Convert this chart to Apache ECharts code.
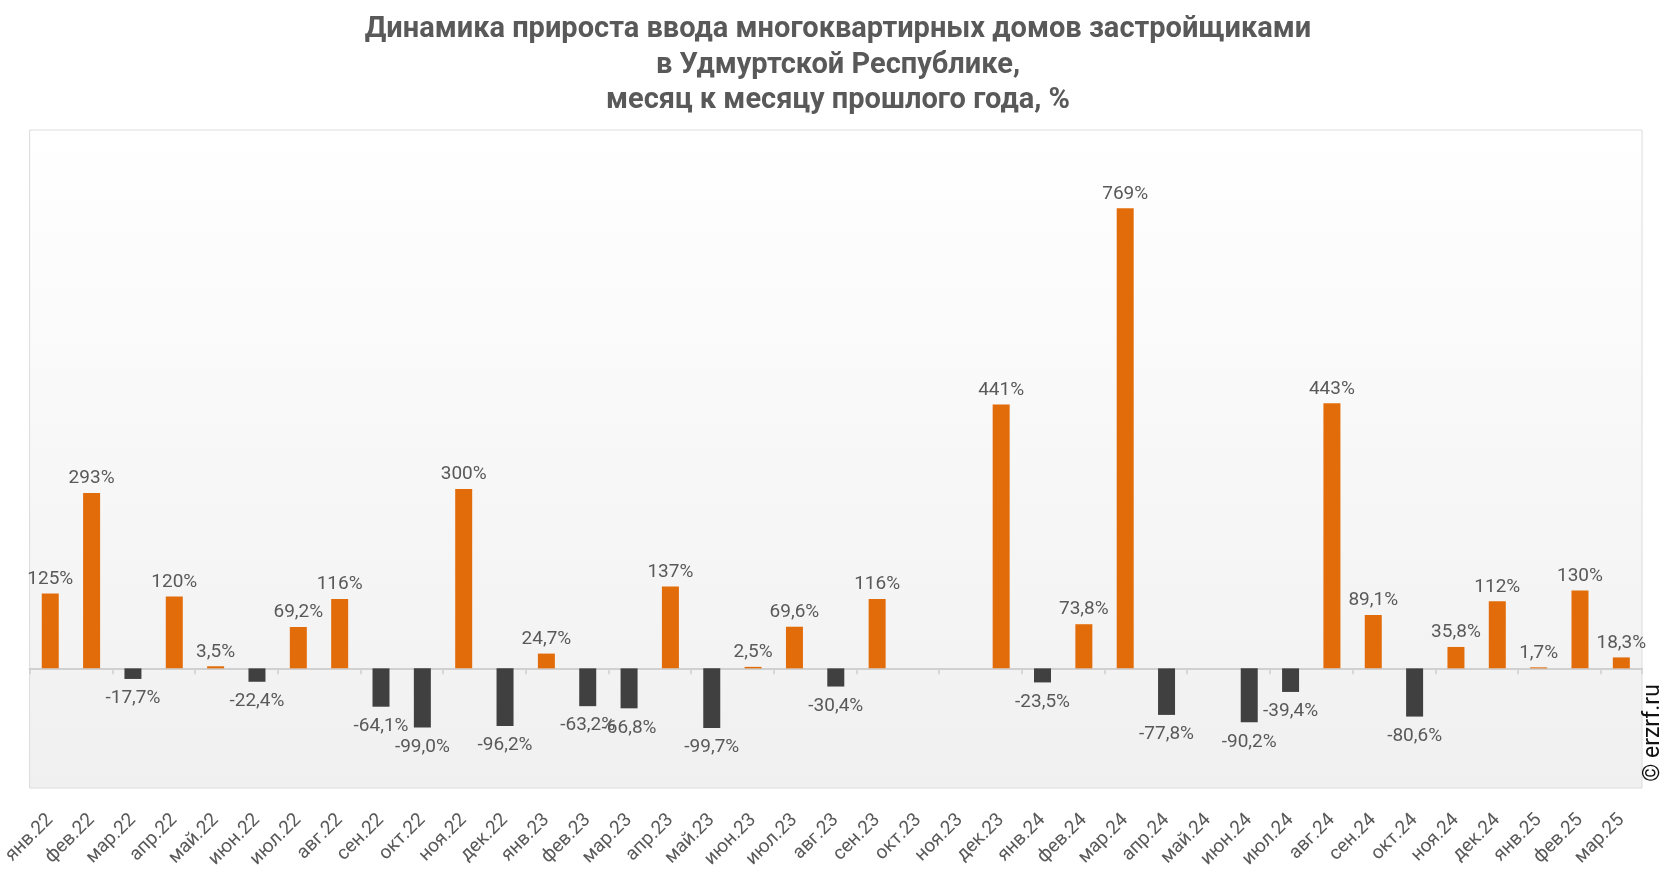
<!DOCTYPE html>
<html><head><meta charset="utf-8">
<script src="https://cdn.jsdelivr.net/npm/echarts@6/dist/echarts.min.js"></script>
<style>html,body{margin:0;padding:0;background:#fff}#c{width:1666px;height:872px}</style>
</head><body><div id="c"></div>
<script>
const categories = ['янв.22','фев.22','мар.22','апр.22','май.22','июн.22','июл.22','авг.22','сен.22','окт.22','ноя.22','дек.22',
 'янв.23','фев.23','мар.23','апр.23','май.23','июн.23','июл.23','авг.23','сен.23','окт.23','ноя.23','дек.23',
 'янв.24','фев.24','мар.24','апр.24','май.24','июн.24','июл.24','авг.24','сен.24','окт.24','ноя.24','дек.24',
 'янв.25','фев.25','мар.25'];
const values = [125,293,-17.7,120,3.5,-22.4,69.2,116,-64.1,-99.0,300,-96.2,
 24.7,-63.2,-66.8,137,-99.7,2.5,69.6,-30.4,116,null,null,441,
 -23.5,73.8,769,-77.8,null,-90.2,-39.4,443,89.1,-80.6,35.8,112,
 1.7,130,18.3];
const titleText = 'Динамика прироста ввода многоквартирных домов застройщиками\nв Удмуртской Республике,\nмесяц к месяцу прошлого года, %';

const ORANGE = '#E36C0A', DARK = '#404040', TXT = '#595959';
function fmt(v){
  if (Math.abs(v) >= 100) return Math.round(v) + '%';
  return v.toFixed(1).replace('.', ',') + '%';
}
const data = values.map(v => v === null ? null : ({
  value: v,
  itemStyle: {color: v >= 0 ? ORANGE : DARK},
  label: v >= 0 ? {position: 'top', distance: 5} : {position: 'bottom', distance: 10}
}));

const chart = echarts.init(document.getElementById('c'));
chart.setOption({
  backgroundColor: '#fff',
  animation: false,
  title: {
    text: titleText, left: 833, top: 7, textAlign: 'center',
    textStyle: {fontFamily: 'Roboto', fontWeight: 'bold', fontSize: 29, color: TXT, lineHeight: 35.5}
  },
  grid: {
    left: 27, right: 24, top: 130, bottom: 84, show: true,
    borderColor: '#dcdcdc', borderWidth: 1,
    backgroundColor: new echarts.graphic.LinearGradient(0, 0, 0, 1, [
      {offset: 0, color: '#ffffff'}, {offset: 1, color: '#f0f0f0'}])
  },
  xAxis: [{
    type: 'category', data: categories,
    axisLine: {onZero: true, lineStyle: {color: '#d0d0d0', width: 2}},
    axisTick: {show: true, length: 6, lineStyle: {color: '#d0d0d0', width: 1.5}},
    axisLabel: {show: false}
  }, {
    type: 'category', data: categories, position: 'bottom',
    axisLine: {show: false}, axisTick: {show: false},
    axisLabel: {rotate: 45, margin: 29, fontFamily: 'Roboto', fontSize: 19, color: TXT, interval: 0}
  }],
  yAxis: {type: 'value', min: -200, max: 900, show: false, splitLine: {show: false}},
  series: [{
    type: 'bar', data: data, barWidth: 17, xAxisIndex: 0,
    label: {show: true, formatter: p => fmt(p.value), fontFamily: 'Roboto', fontSize: 19, color: TXT}
  }],
  graphic: [{
    type: 'text', x: 1653, y: 733, rotation: Math.PI / 2,
    style: {text: '© erzrf.ru', fontFamily: 'Roboto', fontSize: 23, fill: '#111', align: 'center', verticalAlign: 'middle'}
  }]
});
</script></body></html>
